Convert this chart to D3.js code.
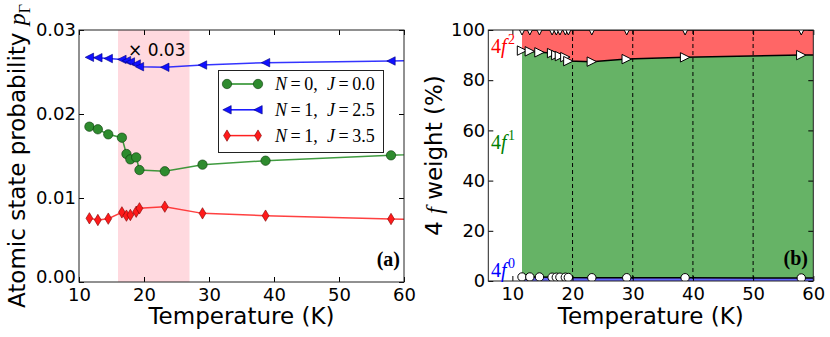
<!DOCTYPE html>
<html>
<head>
<meta charset="utf-8">
<script src="https://cdn.jsdelivr.net/npm/d3@7"></script>
<style>
body { margin: 0; background: #fff; }
text { font-family: "DejaVu Sans", sans-serif; }
.math { font-family: "Liberation Serif", serif; }
</style>
</head>
<body>
<div id="chart"></div>
<script>
// temperatures (K) of the calculations; last one is past the x range, lines run to the edge
const temps = [11.6, 12.9, 14.5, 16.6, 17.3, 17.9, 18.8, 19.3, 23.2, 29.0, 38.7, 58.0, 77.4];

// panel (a): atomic state probabilities
const probN0J00 = [0.01849, 0.01818, 0.01758, 0.01718, 0.01524, 0.01460, 0.01484, 0.01333, 0.01318, 0.01397, 0.01444, 0.01508, 0.0157];
const probN1J25 = [0.02675, 0.0267, 0.0266, 0.0265, 0.02635, 0.0262, 0.02595, 0.02563, 0.02556, 0.02583, 0.02611, 0.02631, 0.0265];
const probN1J35 = [0.00758, 0.00738, 0.00754, 0.00829, 0.00790, 0.00798, 0.00837, 0.00877, 0.00897, 0.00817, 0.00790, 0.00750, 0.0072];

// panel (b): 4f weights (%)
const weight4f0 = [1.6, 1.6, 1.6, 1.5, 1.5, 1.5, 1.5, 1.4, 1.3, 1.3, 1.3, 1.2, 1.1];
const weight4f1 = [90.2, 89.9, 89.5, 89.3, 88.5, 88.1, 87.7, 86.2, 86.1, 87.1, 87.8, 88.8, 89.5];
const weight4f2 = [8.2, 8.5, 8.9, 9.2, 10.0, 10.4, 10.8, 12.4, 12.6, 11.6, 10.9, 10.0, 9.4];

const xTicks = [10, 20, 30, 40, 50, 60];
const probTicks = [0, 0.01, 0.02, 0.03];
const weightTicks = [0, 20, 40, 60, 80, 100];
const dashedTemps = [20, 30, 40, 50];
const bandRange = [16, 27];

const W = 830, H = 337;
const svg = d3.select("#chart").append("svg")
    .attr("width", W)
    .attr("height", H)
    .attr("viewBox", `0 0 ${W} ${H}`);

// marker paths
function triLeft(s) { return `M${-s},0L${s},${-s}L${s},${s}Z`; }
function triRight(s) { return `M${s},0L${-s},${-s}L${-s},${s}Z`; }
function triDown(s) { return `M0,${s}L${-s},${-s}L${s},${-s}Z`; }
function thinDiamond(h) { const w = h * 0.6; return `M0,${-h}L${w},0L0,${h}L${-w},0Z`; }

function drawFrame(g, x, y, xt, yt, yfmt) {
    const [x0, x1] = x.range(), [y0, y1] = y.range();
    g.append("g").attr("transform", `translate(0,${y0})`)
        .call(d3.axisBottom(x).tickValues(xt).tickSize(-5).tickPadding(6).tickFormat(d3.format("d")));
    g.append("g").attr("transform", `translate(0,${y1})`)
        .call(d3.axisTop(x).tickValues(xt).tickSize(-5).tickFormat(""));
    g.append("g").attr("transform", `translate(${x0},0)`)
        .call(d3.axisLeft(y).tickValues(yt).tickSize(-5).tickPadding(3).tickFormat(yfmt));
    g.append("g").attr("transform", `translate(${x1},0)`)
        .call(d3.axisRight(y).tickValues(yt).tickSize(-5).tickFormat(""));
    g.selectAll(".domain").remove();
    g.selectAll(".tick line").attr("stroke", "#000");
    g.selectAll(".tick text").attr("font-size", 18).attr("fill", "#000")
        .attr("font-family", "DejaVu Sans");
    g.append("rect")
        .attr("x", x0).attr("y", y1)
        .attr("width", x1 - x0).attr("height", y0 - y1)
        .attr("fill", "none").attr("stroke", "#222").attr("stroke-width", 1);
}

// ---------- panel (a) ----------
const xa = d3.scaleLinear().domain([10, 60]).range([79, 404]);
const ya = d3.scaleLinear().domain([0, 0.03]).range([282, 30]);
const ga = svg.append("g");

ga.append("clipPath").attr("id", "clipA").append("rect")
    .attr("x", 79).attr("y", 30).attr("width", 325).attr("height", 252);

ga.append("rect")
    .attr("x", xa(bandRange[0])).attr("y", 30)
    .attr("width", xa(bandRange[1]) - xa(bandRange[0])).attr("height", 252)
    .attr("fill", "#ffd9df");

const seriesA = [
    { vals: probN0J00, color: "#1f8a1f", fill: "#2e8b2e", stroke: "#0a3a0a", shape: "circle" },
    { vals: probN1J25, color: "#1010ff", fill: "#1010ff", stroke: "#000080", shape: "left" },
    { vals: probN1J35, color: "#ff2020", fill: "#ff1a1a", stroke: "#800000", shape: "diamond" }
];

function drawMarker(sel, shape, fill, stroke) {
    if (shape === "circle") {
        sel.append("circle").attr("r", 4.7);
    } else if (shape === "left") {
        sel.append("path").attr("d", triLeft(4.2));
    } else {
        sel.append("path").attr("d", thinDiamond(5.7));
    }
    sel.selectAll("circle,path").attr("fill", fill).attr("stroke", stroke).attr("stroke-width", 0.6);
}

const plotA = ga.append("g").attr("clip-path", "url(#clipA)");
const lineA = d3.line().x((d, i) => xa(temps[i])).y(d => ya(d));
seriesA.forEach(s => {
    plotA.append("path").datum(s.vals)
        .attr("d", lineA)
        .attr("fill", "none").attr("stroke", s.color).attr("stroke-width", 1.5).attr("opacity", 0.85);
    plotA.append("g").selectAll("g")
        .data(s.vals)
        .join("g")
        .attr("transform", (d, i) => `translate(${xa(temps[i])},${ya(d)})`)
        .each(function() { drawMarker(d3.select(this), s.shape, s.fill, s.stroke); });
});

drawFrame(ga, xa, ya, xTicks, probTicks, d3.format(".2f"));
// keep the lowest y label clear of the first x label
ga.selectAll(".tick text").filter(d => d === 0).attr("dy", "0em");

ga.append("text").attr("x", 128).attr("y", 56).attr("font-size", 17).text("\u00d7 0.03");

// legend
const leg = ga.append("g");
leg.append("rect").attr("x", 218.5).attr("y", 70.5).attr("width", 165).attr("height", 82)
    .attr("fill", "#fff").attr("stroke", "#222").attr("stroke-width", 1);
const legLabels = [["0", "0.0"], ["1", "2.5"], ["1", "3.5"]];
seriesA.forEach((s, k) => {
    const yy = 84 + k * 25.8;
    leg.append("line").attr("x1", 227).attr("x2", 258).attr("y1", yy).attr("y2", yy)
        .attr("stroke", s.color).attr("stroke-width", 1.5);
    [227, 258].forEach(xx => {
        const m = leg.append("g").attr("transform", `translate(${xx},${yy})`);
        drawMarker(m, s.shape, s.fill, s.stroke);
    });
    const t = leg.append("text").attr("class", "math").attr("x", 275).attr("y", yy + 6).attr("font-size", 18);
    t.append("tspan").attr("font-style", "italic").text("N");
    t.append("tspan").text("\u2009=\u2009" + legLabels[k][0] + ",\u2002");
    t.append("tspan").attr("font-style", "italic").text("J");
    t.append("tspan").text("\u2009=\u2009" + legLabels[k][1]);
});

ga.append("text").attr("class", "math").attr("x", 400).attr("y", 266)
    .attr("text-anchor", "end").attr("font-size", 20).attr("font-weight", "bold").text("(a)");

ga.append("text").attr("x", xa(35)).attr("y", 324).attr("text-anchor", "middle")
    .attr("font-size", 23).text("Temperature (K)");

const yla = ga.append("text").attr("transform", `translate(25,${(30 + 282) / 2}) rotate(-90)`)
    .attr("text-anchor", "middle").attr("font-size", 23);
yla.append("tspan").text("Atomic state probability ");
yla.append("tspan").attr("class", "math").attr("font-style", "italic").attr("font-size", 24).text("p");
yla.append("tspan").attr("class", "math").attr("font-size", 16).attr("dy", 5).text("\u0393");

// ---------- panel (b) ----------
const xb = d3.scaleLinear().domain([6, 60]).range([488.3, 813.3]);
const yb = d3.scaleLinear().domain([0, 100]).range([281, 30]);
const gb = svg.append("g");

gb.append("clipPath").attr("id", "clipB").append("rect")
    .attr("x", 488.3).attr("y", 30).attr("width", 325).attr("height", 251);

const rows = temps.map((t, i) => ({
    t: t,
    a: weight4f0[i],
    b: weight4f0[i] + weight4f1[i],
    c: weight4f0[i] + weight4f1[i] + weight4f2[i]
}));

const plotB = gb.append("g").attr("clip-path", "url(#clipB)");
const band = (lo, hi) => d3.area().x(d => xb(d.t)).y0(d => yb(lo(d))).y1(d => yb(hi(d)));
plotB.append("path").datum(rows).attr("d", band(d => 0, d => d.a)).attr("fill", "#6666ff");
plotB.append("path").datum(rows).attr("d", band(d => d.a, d => d.b)).attr("fill", "#66b366");
plotB.append("path").datum(rows).attr("d", band(d => d.b, d => d.c)).attr("fill", "#ff6666");

plotB.selectAll(".dash").data(dashedTemps).join("line")
    .attr("x1", d => xb(d)).attr("x2", d => xb(d))
    .attr("y1", 30).attr("y2", 281)
    .attr("stroke", "#000").attr("stroke-width", 1).attr("stroke-dasharray", "4,3");

const lineB = key => d3.line().x(d => xb(d.t)).y(d => yb(d[key]));
["a", "b", "c"].forEach(k => {
    plotB.append("path").datum(rows).attr("d", lineB(k))
        .attr("fill", "none").attr("stroke", "#000").attr("stroke-width", 1.5);
});

plotB.append("g").selectAll("circle").data(rows).join("circle")
    .attr("cx", d => xb(d.t)).attr("cy", d => yb(d.a)).attr("r", 4.2)
    .attr("fill", "#fff").attr("stroke", "#000").attr("stroke-width", 1);
plotB.append("g").selectAll("path").data(rows).join("path")
    .attr("transform", d => `translate(${xb(d.t)},${yb(d.b)})`).attr("d", triRight(4.7))
    .attr("fill", "#fff").attr("stroke", "#000").attr("stroke-width", 1);
plotB.append("g").selectAll("path").data(rows).join("path")
    .attr("transform", d => `translate(${xb(d.t)},${yb(d.c)})`).attr("d", triDown(5))
    .attr("fill", "#fff").attr("stroke", "#000").attr("stroke-width", 1);

drawFrame(gb, xb, yb, xTicks, weightTicks, d3.format("d"));

function fLabel(y, sup, color) {
    const t = gb.append("text").attr("class", "math").attr("x", 491).attr("y", y)
        .attr("font-size", 20).attr("fill", color);
    t.append("tspan").text("4");
    t.append("tspan").attr("font-style", "italic").text("f");
    t.append("tspan").attr("font-size", 14).attr("dx", 1.5).attr("dy", -9).text(sup);
}
fLabel(53, "2", "#ff0000");
fLabel(149, "1", "#008000");
fLabel(277, "0", "#0000ff");

gb.append("text").attr("class", "math").attr("x", 808).attr("y", 265)
    .attr("text-anchor", "end").attr("font-size", 20).attr("font-weight", "bold").text("(b)");

gb.append("text").attr("x", (488.3 + 813.3) / 2).attr("y", 324).attr("text-anchor", "middle")
    .attr("font-size", 23).text("Temperature (K)");

const ylb = gb.append("text").attr("transform", `translate(442,${(30 + 281) / 2}) rotate(-90)`)
    .attr("text-anchor", "middle").attr("font-size", 23);
ylb.append("tspan").text("4 ");
ylb.append("tspan").attr("class", "math").attr("font-style", "italic").attr("font-size", 24).text("f");
ylb.append("tspan").text(" weight (%)");
</script>
</body>
</html>
